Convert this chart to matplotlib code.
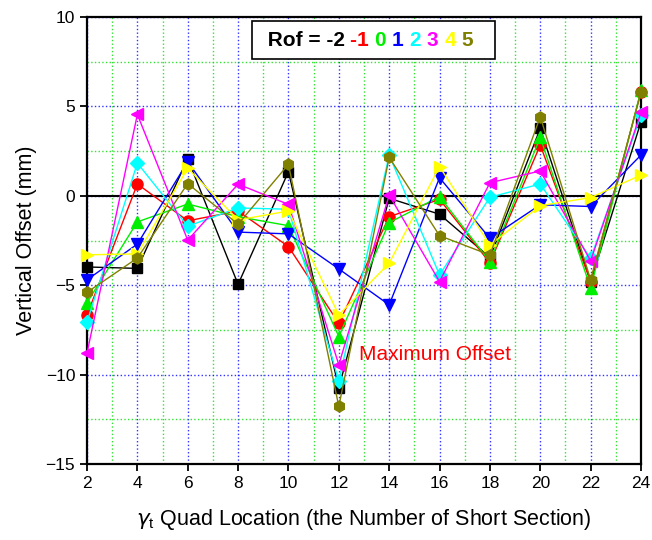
import matplotlib
matplotlib.use("Agg")
import matplotlib.pyplot as plt
from matplotlib.offsetbox import TextArea, HPacker, AnchoredOffsetbox
from matplotlib.ticker import MultipleLocator

plt.rcParams['font.family'] = ['Liberation Sans', 'DejaVu Sans']

x = [2, 4, 6, 8, 10, 12, 14, 16, 18, 20, 22, 24]
rof_labels = ['-2', '-1', '0', '1', '2', '3', '4', '5']
y_m2 = [-3.98, -4.06, 2.07, -4.95, 1.35, -10.75, -0.14, -1.03, -3.45, 3.77, -4.8, 4.14]
y_m1 = [-6.67, 0.66, -1.40, -0.85, -2.84, -7.13, -1.17, -0.2, -3.75, 2.84, -4.8, 5.82]
y_0 = [-5.98, -1.46, -0.46, -1.17, -1.67, -7.87, -1.5, -0.05, -3.68, 3.27, -5.17, 5.9]
y_1 = [-4.7, -2.7, 1.9, -2.03, -2.13, -4.09, -6.1, 1.01, -2.38, -0.5, -0.6, 2.28]
y_2 = [-7.06, 1.83, -1.70, -0.68, -0.75, -10.35, 2.28, -4.43, -0.08, 0.66, -3.5, 4.5]
y_3 = [-8.8, 4.55, -2.48, 0.65, -0.48, -9.45, 0.04, -4.8, 0.73, 1.39, -3.64, 4.66]
y_4 = [-3.3, -3.25, 1.54, -1.35, -0.85, -6.66, -3.77, 1.63, -2.75, -0.55, -0.1, 1.16]
y_5 = [-5.4, -3.48, 0.68, -1.59, 1.76, -11.78, 2.15, -2.23, -3.31, 4.42, -4.7, 5.8]

series = [y_m2, y_m1, y_0, y_1, y_2, y_3, y_4, y_5]
colors = ['black', 'red', '#00ee00', 'blue', 'cyan', 'magenta', 'yellow', '#808000']
markers = ['s', 'o', '^', 'v', 'D', '<', '>', 'h']
msizes = [7, 8, 8, 8, 7, 8, 8, 8]

fig = plt.figure(figsize=(6.52, 5.4), dpi=100)
ax = fig.add_axes([87/652, 1-464/540, (641-87)/652, (464-17)/540])

ax.set_xlim(2, 24)
ax.set_ylim(-15, 10)
ax.xaxis.set_major_locator(MultipleLocator(2))
ax.xaxis.set_minor_locator(MultipleLocator(1))
ax.yaxis.set_major_locator(MultipleLocator(5))
ax.yaxis.set_minor_locator(MultipleLocator(2.5))
ax.grid(which='major', color='blue', linestyle=':', linewidth=1.0, alpha=0.8)
ax.grid(which='minor', color='#00dd00', linestyle=':', linewidth=1.0, alpha=0.8)
ax.set_axisbelow(True)
ax.axhline(0, color='black', linewidth=1.5, zorder=1.5)

for ys, c, m, ms in zip(series, colors, markers, msizes):
    ax.plot(x, ys, color=c, marker=m, markersize=ms, linewidth=1.0,
            markeredgecolor=c, clip_on=False, zorder=3)

for sp in ax.spines.values():
    sp.set_linewidth(1.6)
ax.tick_params(which='major', direction='out', length=5, width=1.3, labelsize=12.5)
ax.tick_params(which='minor', length=0)

ax.set_ylabel('Vertical Offset (mm)', fontsize=15.5, labelpad=6)
ax.set_xlabel(r'$\gamma_\mathregular{t}$ Quad Location (the Number of Short Section)',
              fontsize=15.5, labelpad=12)

ax.text(12.8, -8.9, 'Maximum Offset', color='red', fontsize=15, ha='left', va='center')

tp = dict(fontsize=15, fontweight='bold')
parts = [TextArea(' Rof = -2 ', textprops=dict(color='black', **tp))]
for i, (lab, c) in enumerate(zip(rof_labels[1:], colors[1:])):
    suffix = ' ' if i < len(rof_labels) - 2 else '  '
    parts.append(TextArea(lab + suffix, textprops=dict(color=c, **tp)))
box = HPacker(children=parts, align='center', pad=0, sep=0)
anch = AnchoredOffsetbox(loc='upper left', child=box, pad=0.5, frameon=True,
                         bbox_to_anchor=(252/652, 1-21/540), bbox_transform=fig.transFigure,
                         borderpad=0, prop=dict(size=14))
anch.patch.set_linewidth(1.2)
anch.patch.set_edgecolor('black')
ax.add_artist(anch)

fig.savefig('out.png', dpi=100)
